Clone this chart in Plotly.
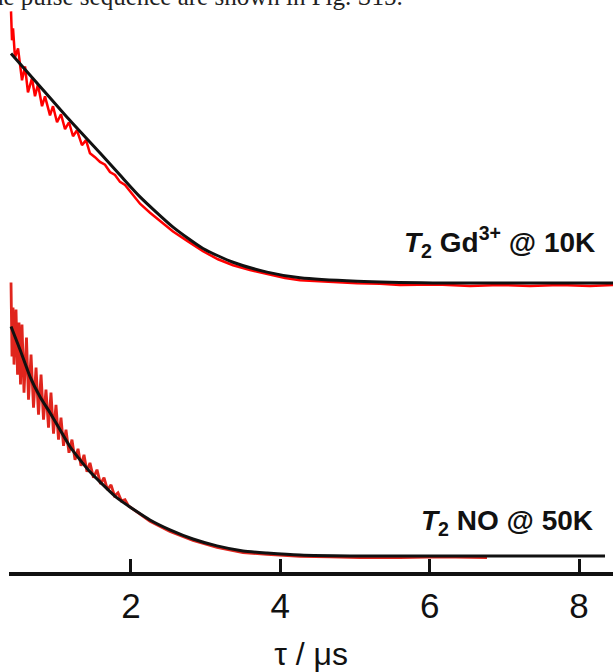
import plotly.graph_objects as go

# ---- data (tau in microseconds, normalised echo intensity) ----
t_gd_exp = [0.395,0.401,0.408,0.422,0.448,0.489,0.542,0.582,0.622,0.676,0.716,0.756,0.810,0.850,0.917,
            0.957,1.011,1.064,1.118,1.171,1.225,1.278,1.345,1.399,1.452,1.519,1.586,1.653,1.720,1.787,
            1.854,1.921,1.988,2.122,2.256,2.390,2.564,2.764,2.965,3.166,3.367,3.594,3.822,4.063,4.264,
            4.665,5.027,5.335,5.602,6.098,6.540,6.941,7.343,7.744,8.146,8.454]
y_gd_exp = [1.183,1.10,1.057,1.109,0.983,1.022,0.883,0.943,0.830,0.891,0.813,0.865,0.770,0.813,0.730,
            0.770,0.700,0.735,0.670,0.700,0.639,0.665,0.600,0.622,0.565,0.548,0.527,0.515,0.483,0.470,
            0.440,0.427,0.398,0.345,0.306,0.272,0.224,0.181,0.138,0.103,0.077,0.056,0.038,0.021,0.012,
            0.004,-0.002,-0.004,-0.009,-0.007,-0.013,-0.009,-0.013,-0.009,-0.013,-0.009]
t_gd_fit = [0.395,0.689,1.145,1.587,1.854,2.122,2.564,2.965,3.367,3.822,4.264,5.027,6.044,8.454]
y_gd_fit = [1.000,0.891,0.722,0.566,0.470,0.375,0.243,0.150,0.090,0.047,0.022,0.007,0.0,0.0]

t_no_exp = [0.395,0.408,0.422,0.435,0.462,0.482,0.502,0.522,0.542,0.569,0.602,0.629,0.663,0.696,0.730,
            0.763,0.797,0.830,0.863,0.897,0.930,0.964,0.997,1.031,1.064,1.098,1.131,1.171,1.211,1.252,
            1.292,1.332,1.372,1.412,1.452,1.499,1.546,1.593,1.640,1.687,1.734,1.781,1.827,1.874,1.921,
            1.968,2.122,2.256,2.523,2.831,3.153,3.501,3.822,4.264,4.665,5.067,5.602,6.137,6.767]
y_no_exp = [1.192,0.869,1.083,0.834,1.074,0.790,1.017,0.747,1.009,0.712,0.952,0.681,0.878,0.646,0.821,
            0.616,0.790,0.594,0.725,0.559,0.712,0.533,0.659,0.507,0.603,0.480,0.550,0.450,0.507,0.419,
            0.467,0.393,0.441,0.367,0.406,0.341,0.376,0.314,0.341,0.288,0.310,0.262,0.275,0.240,0.245,
            0.218,0.183,0.151,0.107,0.068,0.037,0.015,0.007,-0.002,-0.004,-0.007,-0.007,-0.004,-0.007]
t_no_fit = [0.395,0.515,0.649,0.783,0.917,1.051,1.185,1.319,1.452,1.586,1.814,2.256,2.523,2.831,3.153,
            3.501,3.822,4.264,4.933,8.347]
y_no_fit = [1.000,0.900,0.782,0.694,0.624,0.550,0.476,0.419,0.367,0.323,0.253,0.157,0.114,0.074,0.044,
            0.022,0.013,0.004,0.0,0.0]

offset_gd = 1.19   # vertical stacking offset of the Gd3+ trace
offset_no = 0.0

tick_vals = [2, 4, 6, 8]
label_gd = "<b><i>T</i><sub>2</sub> Gd<sup>3+</sup> @ 10K</b>"
label_no = "<b><i>T</i><sub>2</sub> NO @ 50K</b>"
x_title = "τ / μs"
top_text = "the pulse sequence are shown in Fig. S15."

fig = go.Figure()
fig.add_trace(go.Scatter(x=t_gd_exp, y=[v + offset_gd for v in y_gd_exp], mode="lines",
                         line=dict(color="#ff0000", width=2.5), hoverinfo="skip"))
fig.add_trace(go.Scatter(x=t_no_exp, y=[v + offset_no for v in y_no_exp], mode="lines",
                         line=dict(color="#e0251d", width=2.8), hoverinfo="skip"))
fig.add_trace(go.Scatter(x=t_gd_fit, y=[v + offset_gd for v in y_gd_fit], mode="lines",
                         line=dict(color="#111111", width=3, shape="spline", smoothing=0.6), hoverinfo="skip"))
fig.add_trace(go.Scatter(x=t_no_fit, y=[v + offset_no for v in y_no_fit], mode="lines",
                         line=dict(color="#111111", width=3, shape="spline", smoothing=0.6), hoverinfo="skip"))

fig.add_annotation(x=8.24, y=1.37, xref="x", yref="y", text=label_gd, showarrow=False,
                   xanchor="right", yanchor="middle",
                   font=dict(family="Liberation Sans, Arial", size=28, color="#111111"))
fig.add_annotation(x=8.21, y=0.148, xref="x", yref="y", text=label_no, showarrow=False,
                   xanchor="right", yanchor="middle",
                   font=dict(family="Liberation Sans, Arial", size=28, color="#111111"))
fig.add_annotation(x=0, y=1, xref="paper", yref="paper", text=top_text, showarrow=False,
                   xanchor="left", yanchor="bottom", xshift=-27, yshift=-12,
                   font=dict(family="Liberation Serif, Times New Roman", size=25, color="#222222"))

fig.update_layout(
    width=613, height=672,
    margin=dict(l=9, r=0, t=0, b=100),
    paper_bgcolor="white", plot_bgcolor="white",
    showlegend=False,
    xaxis=dict(range=[0.368, 8.454], showgrid=False, zeroline=False,
               showline=True, linecolor="#111111", linewidth=4,
               ticks="inside", ticklen=13, tickwidth=3, tickcolor="#111111",
               tickvals=tick_vals, ticktext=[str(v) for v in tick_vals],
               tickfont=dict(family="Liberation Sans, Arial", size=35, color="#111111"),
               title=dict(text=x_title, standoff=22,
                          font=dict(family="Liberation Sans, Arial", size=32, color="#111111"))),
    yaxis=dict(range=[-0.0697, 2.4227], visible=False),
)

fig.write_html("out.html")
